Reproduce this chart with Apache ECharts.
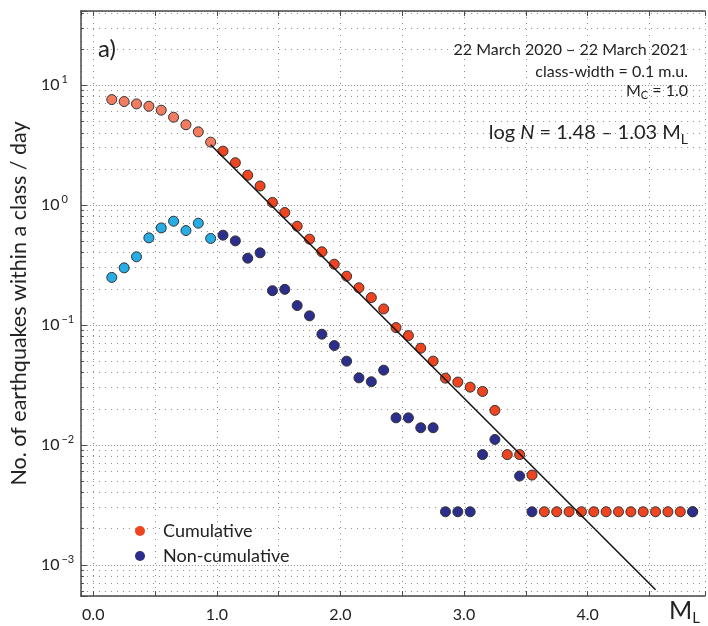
<!DOCTYPE html>
<html>
<head>
<meta charset="utf-8">
<script src="https://cdn.jsdelivr.net/npm/echarts@6/dist/echarts.min.js"></script>
<style>
html,body{margin:0;padding:0;background:#fff;}
#chart{width:708px;height:626px;}
</style>
</head>
<body>
<div id="chart"></div>
<script>
// ---- data ----
const magnitudes = [0.15,0.25,0.35,0.45,0.55,0.65,0.75,0.85,0.95,1.05,1.15,1.25,1.35,1.45,1.55,1.65,1.75,1.85,1.95,2.05,2.15,2.25,2.35,2.45,2.55,2.65,2.75,2.85,2.95,3.05,3.15,3.25,3.35,3.45,3.55,3.65,3.75,3.85,3.95,4.05,4.15,4.25,4.35,4.45,4.55,4.65,4.75,4.85];
const cumulative = [7.56,7.28,6.96,6.65,6.17,5.39,4.66,4.07,3.34,2.81,2.25,1.77,1.44,1.05,0.865,0.665,0.519,0.407,0.321,0.255,0.204,0.169,0.136,0.095,0.0815,0.064,0.0499,0.036,0.0334,0.0303,0.0279,0.0194,0.0083,0.0083,0.0056,0.00277,0.00277,0.00277,0.00277,0.00277,0.00277,0.00277,0.00277,0.00277,0.00277,0.00277,0.00277,0.00277];
const nonCumulative = [0.249,0.299,0.370,0.532,0.644,0.732,0.612,0.705,0.526,0.560,0.502,0.360,0.399,0.193,0.198,0.145,0.119,0.0837,0.0673,0.0499,0.0362,0.0336,0.042,0.0168,0.0168,0.0139,0.0139,0.00277,0.00277,0.00277,0.0083,0.0111,null,0.0055,0.00277,null,null,null,null,null,null,null,null,null,null,null,null,0.00277];
const completenessMag = 1.0;
const fitLineMags = [0.95, 4.55];
const fitLineValues = [3.173, 0.000621];
const xTickLabels = ['0.0','1.0','2.0','3.0','4.0'];
const yTickExponents = [-3,-2,-1,0,1];

// ---- styles ----
const C_RED = '#EE4420', C_RED_LIGHT = '#F27C60';
const C_NAVY = '#2B2E8C', C_BLUE_LIGHT = '#27ACE3';
const FONT = 'Lato';

function points(values, colorBelow, colorAbove) {
  const out = [];
  magnitudes.forEach((m, i) => {
    const v = values[i];
    if (v == null) return;
    out.push({ value: [m, v], itemStyle: { color: m < completenessMag ? colorBelow : colorAbove } });
  });
  return out;
}

const chart = echarts.init(document.getElementById('chart'), null, { renderer: 'canvas' });

const gridLineColor = '#8a8a8a';
const axisColor = '#4a4a4a';

chart.setOption({
  backgroundColor: '#ffffff',
  animation: false,
  textStyle: { fontFamily: FONT, color: '#222' },
  grid: { left: 77, top: 11, width: 633, height: 585, containLabel: false },
  xAxis: [{
    type: 'value', position: 'bottom', min: -0.1, max: 4.95, splitNumber: 10,
    axisLine: { show: true, onZero: false, lineStyle: { color: axisColor, width: 1.5 } },
    axisTick: { show: true, inside: true, length: 5, lineStyle: { color: axisColor } },
    splitLine: { show: true, lineStyle: { color: gridLineColor, width: 1, type: [1, 5] } },
    axisLabel: {
      margin: 11, fontSize: 16, color: '#222', fontFamily: FONT,
      formatter: v => { const r = Math.round(v); return (Math.abs(v - r) < 1e-6 && xTickLabels.indexOf(r.toFixed(1)) >= 0) ? r.toFixed(1) : ''; }
    },
    name: '{m|M}{s|L}', nameLocation: 'end', nameGap: -36,
    nameTextStyle: {
      align: 'left', verticalAlign: 'top', padding: [0, 0, 0, 0],
      rich: { m: { fontSize: 25, fontFamily: FONT, color: '#222', lineHeight: 30 },
              s: { fontSize: 15, fontFamily: FONT, color: '#222', verticalAlign: 'bottom', lineHeight: 12 } }
    }
  }, {
    type: 'value', position: 'top', min: -0.1, max: 4.95, splitNumber: 10,
    axisLine: { show: true, onZero: false, lineStyle: { color: axisColor, width: 1.5 } },
    axisTick: { show: true, inside: true, length: 5, lineStyle: { color: axisColor } },
    splitLine: { show: false }, axisLabel: { show: false }
  }],
  yAxis: {
    type: 'log', logBase: 10, min: 5.5e-4, max: 41.4,
    axisLine: { show: true, onZero: false, lineStyle: { color: axisColor, width: 1.5 } },
    axisTick: { show: true, inside: true, length: 6, lineStyle: { color: axisColor } },
    minorTick: { show: true, splitNumber: 9, length: 3, lineStyle: { color: axisColor } },
    splitLine: { show: true, lineStyle: { color: gridLineColor, width: 1, type: [1, 2] } },
    minorSplitLine: { show: true, lineStyle: { color: gridLineColor, width: 1, type: [1, 5] } },
    axisLabel: {
      align: 'left', margin: 40,
      formatter: v => {
        const e = Math.log10(v), r = Math.round(e);
        if (Math.abs(e - r) > 1e-6 || yTickExponents.indexOf(r) < 0) return '';
        return '{b|10}{s|' + (r < 0 ? '\u2212' + (-r) : String(r)) + '}';
      },
      rich: {
        b: { fontSize: 16, fontFamily: FONT, color: '#222', lineHeight: 22 },
        s: { fontSize: 11, fontFamily: FONT, color: '#222', lineHeight: 9, verticalAlign: 'top', padding: [0, 0, 0, 2] }
      }
    },
    name: 'No. of earthquakes within a class / day', nameLocation: 'middle', nameGap: 45,
    nameTextStyle: { fontSize: 21.5, fontFamily: FONT, color: '#222' }
  },
  legend: {
    orient: 'vertical', left: 135, top: 521, padding: 0, itemGap: 5,
    itemWidth: 10, itemHeight: 10,
    textStyle: { fontSize: 18, fontFamily: FONT, color: '#222', lineHeight: 20, padding: [0, 0, 0, 13] },
    data: [
      { name: 'Cumulative', icon: 'circle', itemStyle: { color: C_RED, borderWidth: 0, opacity: 1 } },
      { name: 'Non-cumulative', icon: 'circle', itemStyle: { color: C_NAVY, borderWidth: 0, opacity: 1 } }
    ]
  },
  series: [
    {
      name: 'Cumulative', type: 'scatter', xAxisIndex: 0, symbol: 'circle', symbolSize: 10,
      itemStyle: { color: C_RED, borderColor: '#333', borderWidth: 1, opacity: 1 },
      data: points(cumulative, C_RED_LIGHT, C_RED), z: 3
    },
    {
      name: 'Non-cumulative', type: 'scatter', xAxisIndex: 0, symbol: 'circle', symbolSize: 10,
      itemStyle: { color: C_NAVY, borderColor: '#333', borderWidth: 1, opacity: 1 },
      data: points(nonCumulative, C_BLUE_LIGHT, C_NAVY), z: 4
    },
    {
      name: 'Fit', type: 'line', xAxisIndex: 0, showSymbol: false, symbol: 'none', silent: true, z: 5,
      lineStyle: { color: '#111', width: 1.5 },
      data: fitLineMags.map((m, i) => [m, fitLineValues[i]])
    }
  ],
  graphic: [
    { type: 'text', x: 98, y: 49, style: { text: 'a)', fontSize: 24, fontFamily: FONT, fill: '#222', align: 'left', verticalAlign: 'middle' } },
    { type: 'text', x: 688, y: 50, style: { text: '22 March 2020 \u2013 22 March 2021', fontSize: 16, fontFamily: FONT, fill: '#222', align: 'right', verticalAlign: 'middle' } },
    { type: 'text', x: 688, y: 72, style: { text: 'class-width = 0.1 m.u.', fontSize: 16, fontFamily: FONT, fill: '#222', align: 'right', verticalAlign: 'middle' } },
    { type: 'text', x: 688, y: 91, style: {
        text: '{m|M}{s|C}{m| = 1.0}', align: 'right', verticalAlign: 'middle',
        rich: { m: { fontSize: 16, fontFamily: FONT, fill: '#222', lineHeight: 20 },
                s: { fontSize: 11, fontFamily: FONT, fill: '#222', lineHeight: 10, verticalAlign: 'bottom' } } } },
    { type: 'text', x: 688, y: 133, style: {
        text: '{m|log }{i|N}{m| = 1.48 \u2013 1.03 M}{s|L}', align: 'right', verticalAlign: 'middle',
        rich: { m: { fontSize: 20, fontFamily: FONT, fill: '#222', lineHeight: 26 },
                i: { fontSize: 20, fontFamily: FONT, fontStyle: 'italic', fill: '#222', lineHeight: 26 },
                s: { fontSize: 14, fontFamily: FONT, fill: '#222', lineHeight: 12, verticalAlign: 'bottom' } } } }
  ]
});
</script>
</body>
</html>
